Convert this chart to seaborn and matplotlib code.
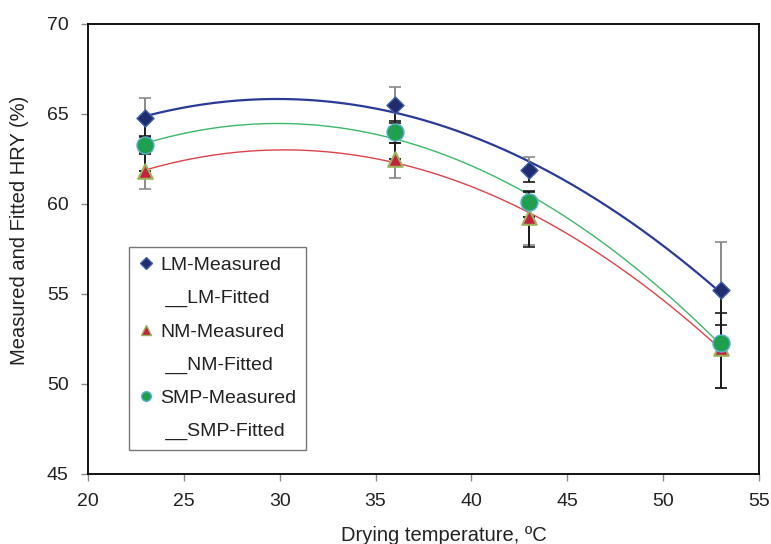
import numpy as np
import pandas as pd
import matplotlib
matplotlib.use("Agg")
import matplotlib.pyplot as plt
from matplotlib.lines import Line2D
import seaborn as sns

# measured HRY (%) at each drying temperature
temps = [23, 36, 43, 53]
lm_hry = [64.8, 65.5, 61.9, 55.2]
nm_hry = [61.85, 62.5, 59.3, 52.0]
smp_hry = [63.3, 64.0, 60.1, 52.3]

# error bars (lower, upper)
lm_err_lo = [1.1, 1.0, 0.7, 2.7]
lm_err_hi = [1.1, 1.0, 0.7, 2.7]
nm_err_lo = [1.0, 1.05, 1.6, 2.2]
nm_err_hi = [1.0, 0.9, 1.4, 1.3]
smp_err_lo = [0.5, 0.6, 2.5, 2.55]
smp_err_hi = [0.5, 0.6, 0.55, 1.67]

series = ["LM", "NM", "SMP"]

sns.set_theme(style="white")
plt.rcParams["font.family"] = ["Liberation Sans", "DejaVu Sans"]

fig = plt.figure(figsize=(7.71, 5.44), dpi=100)
ax = fig.add_axes([0.1141, 0.1287, 0.8703, 0.8272])

meas = pd.DataFrame({
    "temp": temps * 3,
    "hry": lm_hry + nm_hry + smp_hry,
    "series": [s for s in series for _ in temps],
})

# quadratic fits of the measured points
xs = np.linspace(23, 53, 200)
fit_rows = []
for s, vals in zip(series, [lm_hry, nm_hry, smp_hry]):
    coef = np.polyfit(temps, vals, 2)
    fit_rows.append(pd.DataFrame({"temp": xs, "hry": np.polyval(coef, xs), "series": s}))
fits = pd.concat(fit_rows)

line_colors = {"LM": "#2B3A97", "NM": "#D9444A", "SMP": "#3DB86A"}
line_widths = {"LM": 1.6, "NM": 1.0, "SMP": 1.0}
for s in series:
    sns.lineplot(data=fits[fits.series == s], x="temp", y="hry", color=line_colors[s],
                 lw=line_widths[s], ax=ax, legend=False, zorder=2)

grey = "#8A8A8A"
blk = "#1A1A1A"
t = np.array(temps)
kw = dict(fmt="none", capsize=4, elinewidth=1.4, capthick=1.2)
# upper / lower halves drawn separately to get the mixed grey/black look
ax.errorbar(t, lm_hry, yerr=[[0] * 4, lm_err_hi], ecolor=grey, zorder=3, **kw)
ax.errorbar(t, nm_hry, yerr=[nm_err_lo, [0] * 4], ecolor=grey, zorder=3, **kw)
ax.errorbar(t, lm_hry, yerr=[lm_err_lo, [0] * 4], ecolor=blk, zorder=4, **kw)
ax.errorbar(t, nm_hry, yerr=[[0] * 4, nm_err_hi], ecolor=blk, zorder=4, **kw)
ax.errorbar(t, smp_hry, yerr=[smp_err_lo, smp_err_hi], ecolor=blk, zorder=4, **kw)

sns.scatterplot(data=meas[meas.series == "LM"], x="temp", y="hry", marker="D", s=75,
                color="#1F2C6E", edgecolor="#3F5FA8", linewidth=1.0, ax=ax, zorder=5)
sns.scatterplot(data=meas[meas.series == "NM"], x="temp", y="hry", marker="^", s=110,
                color="#C4203F", edgecolor="#9BB35A", linewidth=1.5, ax=ax, zorder=5)
sns.scatterplot(data=meas[meas.series == "SMP"], x="temp", y="hry", marker="o", s=150,
                color="#1FA04F", edgecolor="#5BB0CF", linewidth=1.0, ax=ax, zorder=6)

ax.set_xlim(20, 55)
ax.set_ylim(45, 70)
ax.set_xticks(range(20, 56, 5))
ax.set_yticks(range(45, 71, 5))
ax.tick_params(axis="both", direction="out", length=5, width=1, color=grey,
               labelsize=14, labelcolor="#222222", bottom=True, left=True)
ax.tick_params(axis="x", pad=9)
ax.tick_params(axis="y", pad=9)
for sp in ax.spines.values():
    sp.set_color("black")
    sp.set_linewidth(1.3)

ax.set_xlabel("Drying temperature, ºC", fontsize=14.5, color="#222222")
ax.set_ylabel("Measured and Fitted HRY (%)", fontsize=14.5, color="#222222")
ax.xaxis.set_label_coords(0.531, -0.1156)
ax.yaxis.set_label_coords(-0.088, 0.542)

empty = Line2D([], [], linestyle="none", marker=None)
handles = [
    Line2D([], [], ls="none", marker="D", ms=6, color="#1F2C6E", mec="#3F5FA8"),
    empty,
    Line2D([], [], ls="none", marker="^", ms=7, color="#C4203F", mec="#9BB35A"),
    empty,
    Line2D([], [], ls="none", marker="o", ms=7, color="#1FA04F", mec="#5BB0CF"),
    empty,
]
labels = ["LM-Measured", " __LM-Fitted", "NM-Measured", " __NM-Fitted",
          "SMP-Measured", " __SMP-Fitted"]
leg = ax.legend(handles, labels, loc="lower left", bbox_to_anchor=(0.061, 0.053),
                fontsize=14, frameon=True, fancybox=False, labelspacing=0.8,
                handlelength=0.8, handletextpad=0.3, borderpad=0.5,
                borderaxespad=0, labelcolor="#222222")
leg.get_frame().set_edgecolor("#555555")
leg.get_frame().set_linewidth(1.0)

fig.savefig("out.png", dpi=100)
